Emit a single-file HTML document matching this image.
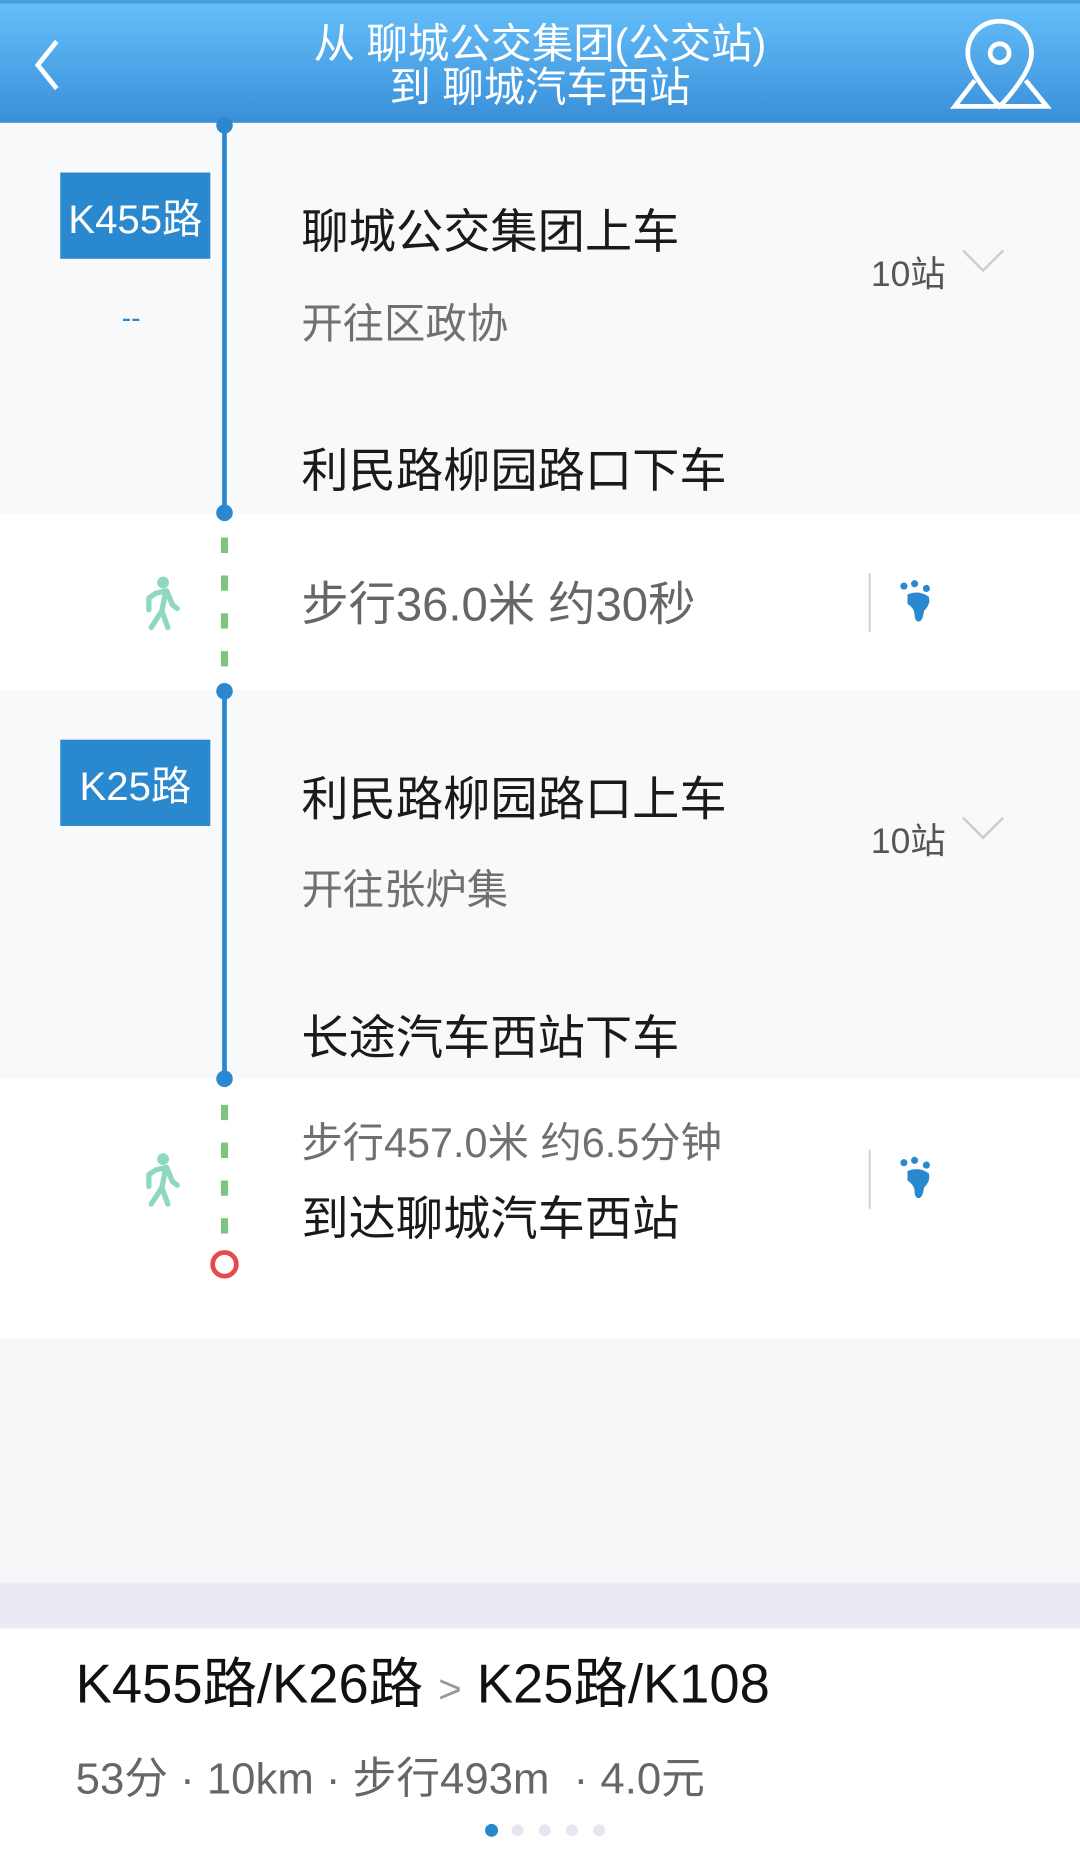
<!DOCTYPE html>
<html><head><meta charset="utf-8"><style>
html,body{margin:0;padding:0;width:1080px;height:1852px;overflow:hidden;background:#fff}
#w{position:absolute;left:0;top:0;width:914px;height:1568px;transform:scale(1.18162);transform-origin:0 0;font-family:"Liberation Sans","Noto Sans CJK SC",sans-serif}
.a{position:absolute;white-space:nowrap;line-height:1}
.badge{position:absolute;left:51px;width:127px;height:73px;background:#2a88cf;color:#fff;font-size:34px;display:flex;align-items:center;justify-content:center}
.big{font-size:40px;color:#1a1a1a}
.gr{font-size:35px;color:#707070}
</style></head><body><div id="w">
<div class="a" style="left:0;top:0;width:914px;height:104px;background:linear-gradient(#66c0fb,#3a8fd8)"></div>
<div class="a" style="left:0;top:0;width:914px;height:3px;background:#4a9be0"></div>
<svg class="a" style="left:20px;top:30px" width="40" height="50"><polyline points="28,5 12,25 28,45" fill="none" stroke="#fff" stroke-width="4"/></svg>
<div class="a" style="left:0;width:914px;top:20px;text-align:center;color:#fff;font-size:35px">从 聊城公交集团(公交站)</div>
<div class="a" style="left:0;width:914px;top:57px;text-align:center;color:#fff;font-size:35px">到 聊城汽车西站</div>
<svg class="a" style="left:800px;top:14px" width="95" height="82"><path d="M46 4c-16 0-27 12-27 27 0 18 27 45 27 45s27-27 27-45c0-15-11-27-27-27z" fill="none" stroke="#fff" stroke-width="4"/><circle cx="46" cy="31" r="8" fill="none" stroke="#fff" stroke-width="4"/><polyline points="25,54 8,76 86,76 68,54" fill="none" stroke="#fff" stroke-width="4"/></svg>

<div class="a" style="left:0;top:104px;width:914px;height:331px;background:#f8f9fb"></div>
<div class="a" style="left:0;top:584px;width:914px;height:329px;background:#f8f9fb"></div>
<div class="a" style="left:0;top:1133px;width:914px;height:207px;background:#f6f6f8"></div>
<div class="a" style="left:0;top:1340px;width:914px;height:38px;background:#e9eaf4"></div>

<svg class="a" style="left:0;top:0" width="914" height="1568">
<line x1="190" y1="104" x2="190" y2="434" stroke="#2b88cf" stroke-width="4"/>
<circle cx="190" cy="106" r="7" fill="#2b88cf"/><circle cx="190" cy="434" r="7" fill="#2b88cf"/>
<line x1="190" y1="455" x2="190" y2="570" stroke="#7cc57f" stroke-width="6" stroke-dasharray="13,19"/>
<line x1="190" y1="585" x2="190" y2="913" stroke="#2b88cf" stroke-width="4"/>
<circle cx="190" cy="585" r="7" fill="#2b88cf"/><circle cx="190" cy="913" r="7" fill="#2b88cf"/>
<line x1="190" y1="935" x2="190" y2="1050" stroke="#7cc57f" stroke-width="6" stroke-dasharray="13,19"/>
<circle cx="190" cy="1070" r="10" fill="#fff" stroke="#e84a4a" stroke-width="4"/>
<polyline points="815,212 832,229 849,212" fill="none" stroke="#ccc" stroke-width="2"/>
<polyline points="815,692 832,709 849,692" fill="none" stroke="#ccc" stroke-width="2"/>
<line x1="736" y1="485" x2="736" y2="535" stroke="#ccc" stroke-width="1.5"/>
<line x1="736" y1="973" x2="736" y2="1023" stroke="#ccc" stroke-width="1.5"/>
<g id="walk" fill="#8fd8c0" stroke="#8fd8c0"><circle cx="138" cy="493" r="5" stroke="none"/><path d="M132 502 L141 500 L146 512 L150 515 M140 502 L137 517 L142 531 M137 517 L128 531 M132 502 L126 506 L126 516" fill="none" stroke-width="4.5" stroke-linecap="round" stroke-linejoin="round"/></g>
<use href="#walk" y="488"/>
<g id="foot" fill="#2a88cf"><circle cx="765" cy="496" r="3"/><circle cx="774" cy="494" r="3"/><circle cx="784" cy="498" r="3"/><path d="M768 503 q10 -4 18 2 q2 6 -4 12 q-1 8 -4 9 q-4 0 -4 -6 q0 -5 -6 -9 z"/></g>
<use href="#foot" y="488"/>
<circle cx="416" cy="1549" r="5.5" fill="#2a88cf"/><circle cx="438" cy="1549" r="5" fill="#e4e6f2"/><circle cx="461" cy="1549" r="5" fill="#e4e6f2"/><circle cx="484" cy="1549" r="5" fill="#e4e6f2"/><circle cx="507" cy="1549" r="5" fill="#e4e6f2"/>
</svg>

<div class="badge" style="top:146px">K455路</div>
<div class="a" style="left:103px;top:258px;color:#2a88cf;font-size:24px">--</div>
<div class="a big" style="left:255px;top:177px">聊城公交集团上车</div>
<div class="a gr" style="left:255px;top:257px">开往区政协</div>
<div class="a" style="left:737px;top:218px;font-size:30px;color:#555">10站</div>
<div class="a big" style="left:255px;top:379px">利民路柳园路口下车</div>
<div class="a" style="left:255px;top:492px;font-size:40px;color:#666">步行36.0米 约30秒</div>

<div class="badge" style="top:626px">K25路</div>
<div class="a big" style="left:255px;top:657px">利民路柳园路口上车</div>
<div class="a gr" style="left:255px;top:736px">开往张炉集</div>
<div class="a" style="left:737px;top:698px;font-size:30px;color:#555">10站</div>
<div class="a big" style="left:255px;top:859px">长途汽车西站下车</div>
<div class="a" style="left:255px;top:950px;font-size:35px;color:#707070">步行457.0米 约6.5分钟</div>
<div class="a big" style="left:255px;top:1012px">到达聊城汽车西站</div>

<div class="a" style="left:64px;top:1402px;font-size:46px;color:#111">K455路/K26路 <span style="color:#999;font-size:34px">&gt;</span> K25路/K108</div>
<div class="a" style="left:64px;top:1487px;font-size:37px;color:#666">53分 · 10km · 步行493m &nbsp;· 4.0元</div>
</div></body></html>
